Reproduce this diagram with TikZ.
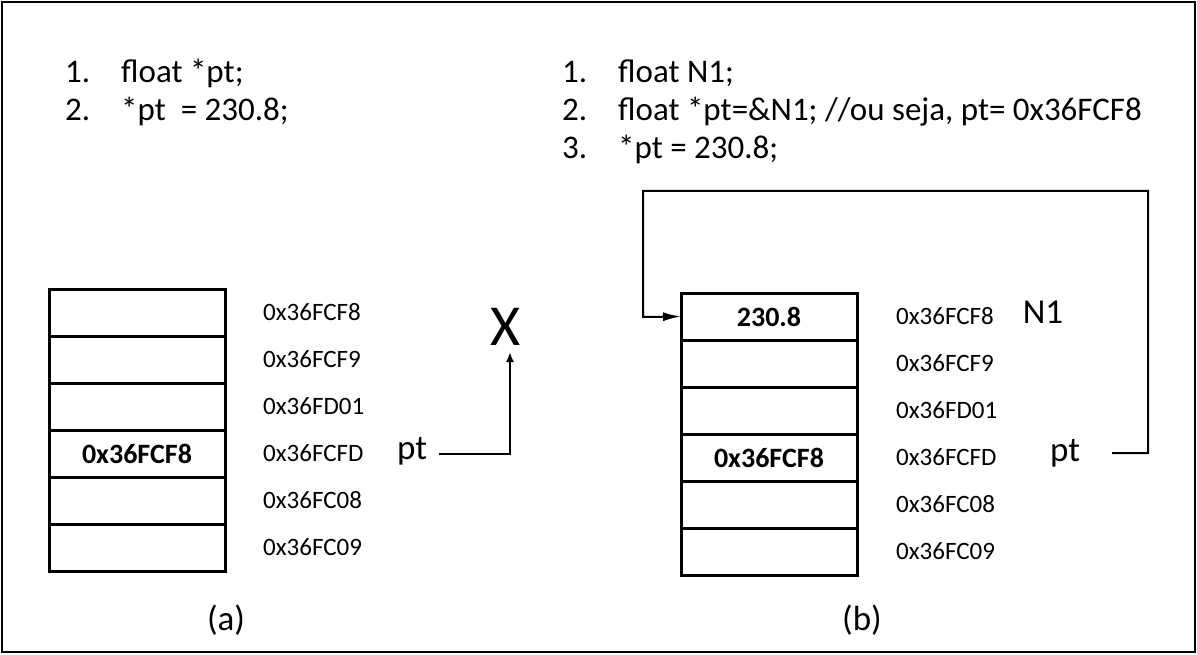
\documentclass[tikz,border=0pt]{standalone}
\usepackage{fontspec}
\setmainfont{Carlito}
\usetikzlibrary{arrows.meta,positioning}
\begin{document}
\begin{tikzpicture}[x=1pt,y=-1pt,
  cell/.style={draw,line width=3pt,minimum width=176pt,minimum height=47pt,inner sep=0pt,outer sep=0pt,font=\fontsize{28}{30}\selectfont\bfseries},
  addr/.style={anchor=west,inner sep=0pt,font=\fontsize{25}{28}\selectfont},
  code/.style={anchor=base west,inner sep=0pt,font=\fontsize{33}{38}\selectfont},
  lbl/.style={inner sep=0pt,font=\fontsize{35}{38}\selectfont},
  conn/.style={line width=2pt}]
\useasboundingbox (0,0) rectangle (1197,655);
\draw[line width=2pt] (2,2) rectangle (1195,652);
% code (a)
\node[code] (a1n) at (65,83) {1.};
\node[code] (a1t) at (121,83) {float *pt;};
\node[code] (a2n) at (65,121) {2.};
\node[code] (a2t) at (121,121) {*pt\ \ = 230.8;};
% code (b)
\node[code] (b1n) at (562,83) {1.};
\node[code] (b1t) at (618,83) {float N1;};
\node[code] (b2n) at (562,121) {2.};
\node[code] (b2t) at (618,121) {float *pt=\&N1; //ou seja, pt= 0x36FCF8};
\node[code] (b3n) at (562,159) {3.};
\node[code] (b3t) at (618,159) {*pt = 230.8;};
% stack (a)
\node[cell,anchor=north west] (la1) at (49,289) {};
\node[cell,anchor=north] (la2) at (la1.south) {};
\node[cell,anchor=north] (la3) at (la2.south) {};
\node[cell,anchor=north] (la4) at (la3.south) {0x36FCF8};
\node[cell,anchor=north] (la5) at (la4.south) {};
\node[cell,anchor=north] (la6) at (la5.south) {};
\node[addr] (aa1) at (263,0 |- la1) {0x36FCF8};
\node[addr] (aa2) at (263,0 |- la2) {0x36FCF9};
\node[addr] (aa3) at (263,0 |- la3) {0x36FD01};
\node[addr] (aa4) at (263,0 |- la4) {0x36FCFD};
\node[addr] (aa5) at (263,0 |- la5) {0x36FC08};
\node[addr] (aa6) at (263,0 |- la6) {0x36FC09};
\node[lbl,anchor=base] (pta) at (412,459) {pt};
\node[inner sep=0pt,font=\fontsize{58}{58}\selectfont,anchor=south] (X) at (506,346) {X};
\coordinate (ca) at (510,454);
\draw[line width=2.5pt,-{Latex[length=10pt,width=8pt]}] (439,454) -- (ca) -- (510,352);
\node[lbl] (capa) at (226,620) {(a)};
% stack (b)
\node[cell,anchor=north west] (rb1) at (681,293) {230.8};
\node[cell,anchor=north] (rb2) at (rb1.south) {};
\node[cell,anchor=north] (rb3) at (rb2.south) {};
\node[cell,anchor=north] (rb4) at (rb3.south) {0x36FCF8};
\node[cell,anchor=north] (rb5) at (rb4.south) {};
\node[cell,anchor=north] (rb6) at (rb5.south) {};
\node[addr] (ba1) at (896,0 |- rb1) {0x36FCF8};
\node[addr] (ba2) at (896,0 |- rb2) {0x36FCF9};
\node[addr] (ba3) at (896,0 |- rb3) {0x36FD01};
\node[addr] (ba4) at (896,0 |- rb4) {0x36FCFD};
\node[addr] (ba5) at (896,0 |- rb5) {0x36FC08};
\node[addr] (ba6) at (896,0 |- rb6) {0x36FC09};
\node[lbl,anchor=base] (n1) at (1043,323) {N1};
\node[lbl,anchor=base] (ptb) at (1065,461) {pt};
\coordinate (c1) at (1148,453);
\coordinate (c2) at (1148,191);
\coordinate (c3) at (643,191);
\coordinate (c4) at (643,317);
\draw[conn,-{Latex[length=18pt,width=9pt]}] (1112,453) -- (c1) -- (c2) -- (c3) -- (c4) -- (rb1.west);
\node[lbl] (capb) at (862,620) {(b)};
\end{tikzpicture}
\end{document}
